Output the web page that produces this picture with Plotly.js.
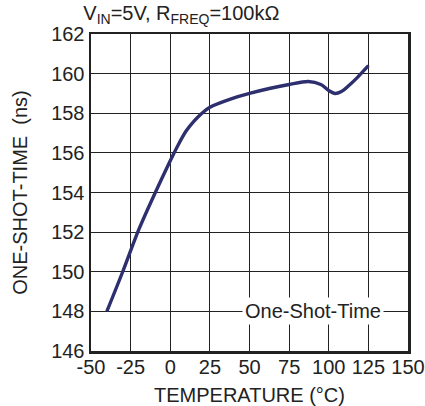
<!DOCTYPE html>
<html>
<head>
<meta charset="utf-8">
<script src="https://cdn.plot.ly/plotly-3.0.1.min.js"></script>
<style>html,body{margin:0;padding:0;background:#fff;}#chart{width:425px;height:406px;}</style>
</head>
<body>
<div id="chart"></div>
<script>
const temperature = [-40, -30, -20, -10, 0, 5, 10, 15, 20, 25, 37.5, 50, 62.5, 75, 87, 95, 100, 104, 108, 112, 118, 125];
const oneShotTime = [148.0, 150.0, 152.1, 153.9, 155.6, 156.4, 157.1, 157.6, 158.0, 158.3, 158.7, 159.0, 159.25, 159.45, 159.6, 159.45, 159.15, 159.0, 159.1, 159.35, 159.8, 160.4];
const xTicks = [-50, -25, 0, 25, 50, 75, 100, 125, 150];
const yTicks = [146, 148, 150, 152, 154, 156, 158, 160, 162];
const seriesName = 'One-Shot-Time';

const font = 'Liberation Sans, Arial, sans-serif';
const data = [{
  x: temperature, y: oneShotTime, type: 'scatter', mode: 'lines',
  line: {color: '#2e2f6e', width: 3.4, shape: 'spline', smoothing: 0.8},
  name: seriesName, showlegend: false
}];
const axisCommon = {
  showline: true, linecolor: '#222', linewidth: 2.5, mirror: true,
  showgrid: true, gridcolor: '#222', gridwidth: 1.2, zeroline: false,
  ticks: '', tickfont: {family: font, size: 20, color: '#222'}, fixedrange: true
};
const layout = {
  width: 425, height: 406,
  margin: {l: 91, r: 17, t: 34, b: 55},
  paper_bgcolor: '#fff', plot_bgcolor: '#fff',
  font: {family: font, color: '#222'},
  title: {text: 'V<sub>IN</sub>=5V, R<sub>FREQ</sub>=100kΩ', font: {family: font, size: 20, color: '#222'},
          x: 0.196, xanchor: 'left', xref: 'container', y: 0.985, yanchor: 'top'},
  xaxis: Object.assign({}, axisCommon, {
    range: [-50, 150], tickvals: xTicks, ticktext: xTicks.map(String), ticklabelstandoff: -4,
    title: {text: 'TEMPERATURE (°C)', font: {family: font, size: 20, color: '#222'}, standoff: 17}
  }),
  yaxis: Object.assign({}, axisCommon, {
    range: [146, 162], tickvals: yTicks, ticktext: yTicks.map(String),
    title: {text: 'ONE-SHOT-TIME  (ns)', font: {family: font, size: 20, color: '#222'}, standoff: 18}
  }),
  annotations: [{
    x: 90, y: 148, xref: 'x', yref: 'y', text: seriesName, showarrow: false,
    font: {family: font, size: 20, color: '#222'}, bgcolor: '#fff', borderpad: 2
  }]
};
Plotly.newPlot('chart', data, layout, {displayModeBar: false, staticPlot: true});
</script>
</body>
</html>
